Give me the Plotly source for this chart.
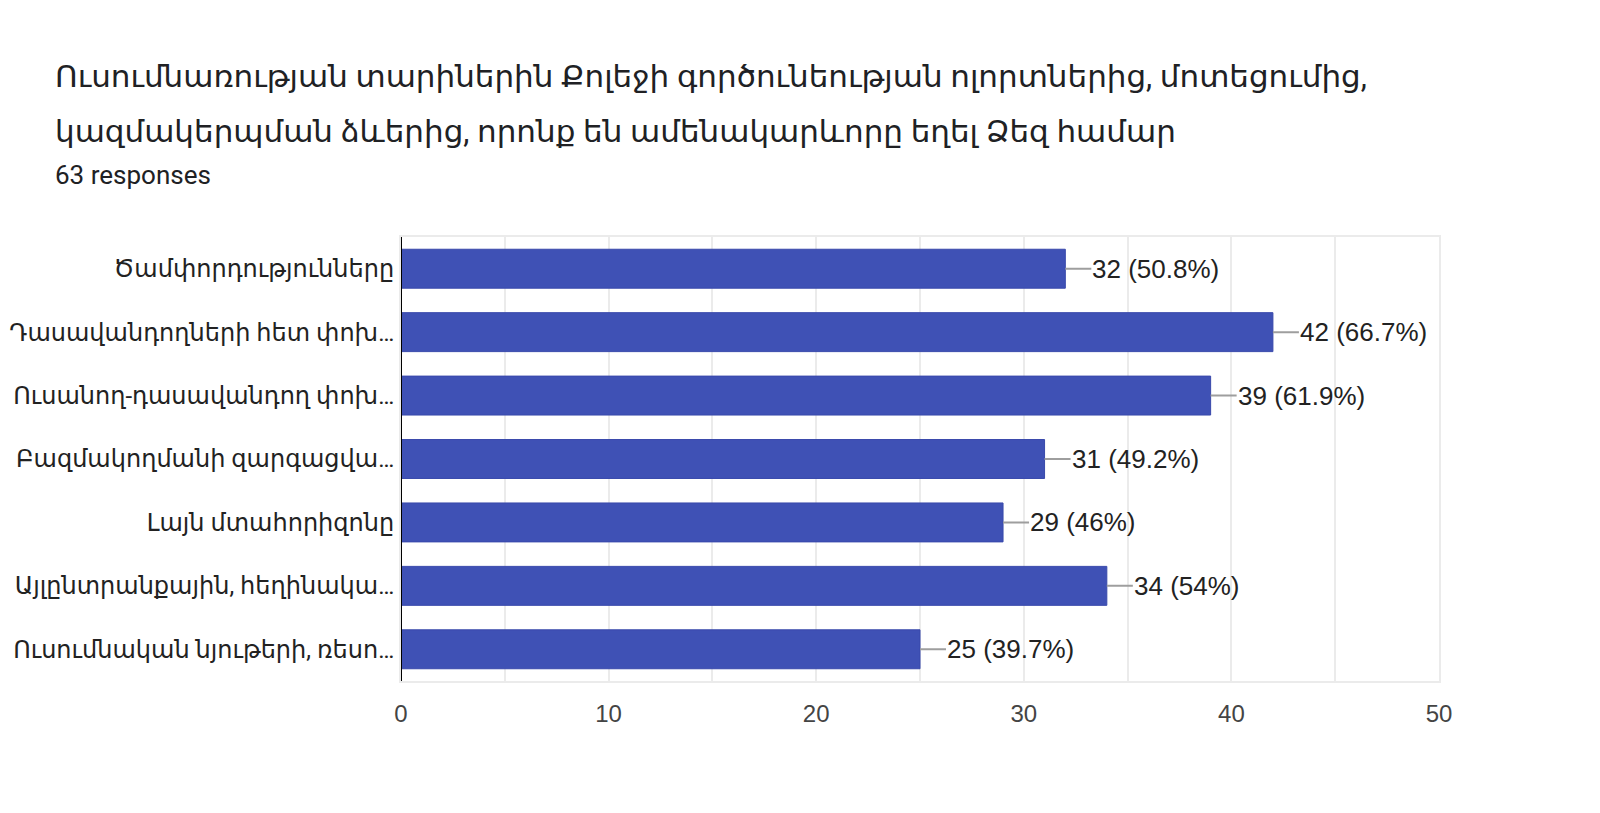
import plotly.graph_objects as go

categories = [
    "Ծամփորդությունները",
    "Դասավանդողների հետ փոխ…",
    "Ուսանող-դասավանդող փոխ…",
    "Բազմակողմանի զարգացվա…",
    "Լայն մտահորիզոնը",
    "Այլընտրանքային, հեղինակա…",
    "Ուսումնական նյութերի, ռեսո…",
]
counts = [32, 42, 39, 31, 29, 34, 25]
total_responses = 63
title_lines = [
    "Ուսումնառության տարիներին Քոլեջի գործունեության ոլորտներից, մոտեցումից,",
    "կազմակերպման ձևերից, որոնք են ամենակարևորը եղել Ձեզ համար",
]
subtitle = f"{total_responses} responses"
x_ticks = [0, 10, 20, 30, 40, 50]

FONT = "Roboto, 'Noto Sans', 'DejaVu Sans', Arial, sans-serif"
NUMFONT = "'Liberation Sans', Arial, sans-serif"

def fmt_pct(c):
    p = round(c / total_responses * 100, 1)
    s = f"{p:.1f}"
    if s.endswith(".0"):
        s = s[:-2]
    return f"{c} ({s}%)"

fig = go.Figure()
fig.add_trace(go.Bar(
    x=counts, y=categories, orientation="h",
    marker=dict(color="#3f51b5", line=dict(color="#3949ab", width=1)),
    hoverinfo="skip",
))

annotations = []
for c, cat in zip(counts, categories):
    annotations.append(dict(
        x=c, y=cat, xref="x", yref="y",
        text=fmt_pct(c), showarrow=True, arrowhead=0, arrowwidth=2,
        arrowcolor="#9e9e9e", ax=26, ay=0, xanchor="left", yanchor="middle",
        font=dict(family=NUMFONT, size=26, color="#222222"),
        borderpad=0,
    ))

plot_left, plot_right_px, plot_top, plot_bottom = 401, 1439, 237, 681
pw = plot_right_px - plot_left
ph = plot_bottom - plot_top

def px_to_paper_x(px):
    return (px - plot_left) / pw

def px_to_paper_y(py):
    return (plot_bottom - py) / ph

annotations.append(dict(
    xref="paper", yref="paper", x=px_to_paper_x(53), y=px_to_paper_y(77),
    text=title_lines[0], showarrow=False, xanchor="left", yanchor="middle",
    font=dict(family=FONT, size=31, color="#202124"),
))
annotations.append(dict(
    xref="paper", yref="paper", x=px_to_paper_x(53), y=px_to_paper_y(131),
    text=title_lines[1], showarrow=False, xanchor="left", yanchor="middle",
    font=dict(family=FONT, size=31, color="#202124"),
))
annotations.append(dict(
    xref="paper", yref="paper", x=px_to_paper_x(53), y=px_to_paper_y(174.5),
    text=subtitle, showarrow=False, xanchor="left", yanchor="middle",
    font=dict(family=FONT, size=26, color="#202124"),
))

fig.update_layout(
    width=1600, height=813,
    margin=dict(l=plot_left, r=1600 - plot_right_px, t=plot_top, b=813 - plot_bottom,
                autoexpand=False),
    paper_bgcolor="white", plot_bgcolor="white",
    showlegend=False, bargap=0.386,
    annotations=annotations,
    font=dict(family=FONT),
)
fig.update_xaxes(
    range=[0, 50], tickvals=x_ticks, ticktext=[str(t) for t in x_ticks],
    showgrid=True, gridcolor="#ebebeb", gridwidth=2,
    minor=dict(dtick=5, showgrid=True, gridcolor="#ebebeb", gridwidth=2),
    showline=True, linecolor="#ebebeb", linewidth=2, mirror=True,
    zeroline=False, ticks="", ticklabelstandoff=10, automargin=False,
    tickfont=dict(family=NUMFONT, size=24, color="#444444"),
    fixedrange=True,
)
fig.update_yaxes(
    autorange="reversed", showgrid=False,
    showline=True, linecolor="#ebebeb", linewidth=2, mirror=True,
    ticks="", ticklabelstandoff=0, automargin=False,
    tickfont=dict(family=FONT, size=24, color="#222222"),
    fixedrange=True,
)
fig.add_shape(type="line", xref="x", yref="paper", x0=0, x1=0, y0=0, y1=1,
              line=dict(color="#000000", width=2), layer="above")

fig.write_html("out.html")
